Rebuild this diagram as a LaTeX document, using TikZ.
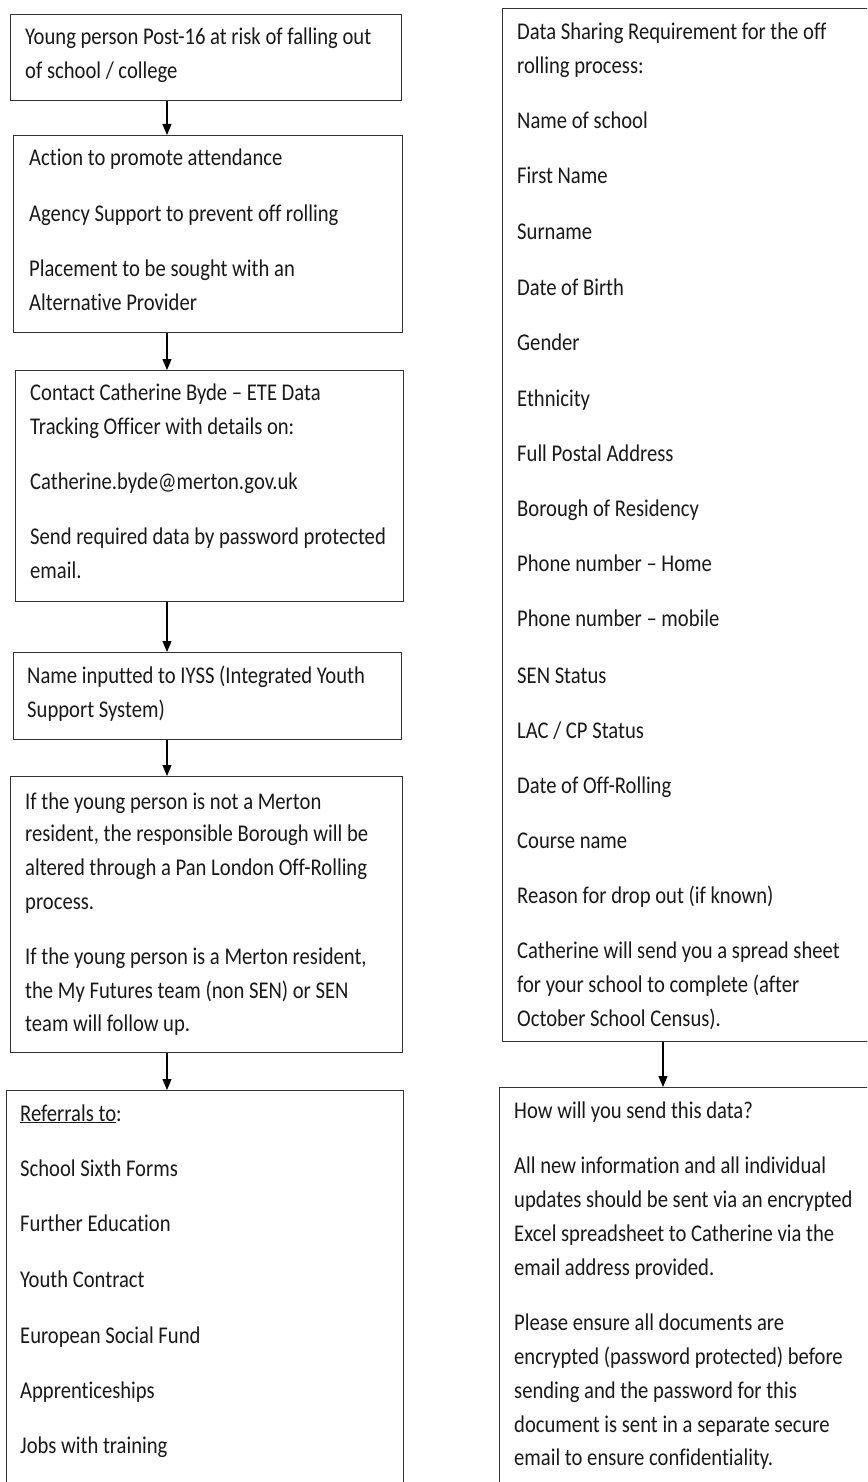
\documentclass[tikz,border=0pt]{standalone}
\usepackage{fontspec}
\setmainfont{Carlito}[FakeStretch=0.86,Ligatures={NoCommon,NoRequired,NoContextual}]
\usetikzlibrary{arrows.meta}
\newcommand\txtline[4]{\node[txt] (#1) at (#2,#3) {#4};}
\begin{document}
\begin{tikzpicture}[x=1pt,y=-1pt,
  box/.style={draw=black!80,line width=1.1pt,anchor=north west,inner sep=0pt},
  txt/.style={anchor=base west,inner sep=0pt,font=\fontsize{24}{34}\selectfont,text=black!90},
  arr/.style={-{Triangle[length=11pt,width=9pt]},line width=1.1pt,black}]
\clip (0,0) rectangle (867,1482);
\fill[white] (0,0) rectangle (867,1482);
\coordinate (ax) at (167,0);
\coordinate (rx) at (663,0);
% left column boxes
\node[box,minimum width=391pt,minimum height=86pt] (b1) at (10,14) {};
\node[box,minimum width=389pt,minimum height=197pt] (b2) at (13,135) {};
\node[box,minimum width=388pt,minimum height=231pt] (b3) at (15,370) {};
\node[box,minimum width=388pt,minimum height=87pt] (b4) at (13,652) {};
\node[box,minimum width=392pt,minimum height=276pt] (b5) at (10,776) {};
\node[box,minimum width=397pt,minimum height=420pt] (b6) at (6,1090) {};
% right column boxes
\node[box,minimum width=400pt,minimum height=1033pt] (r1) at (502,8) {};
\node[box,minimum width=400pt,minimum height=420pt] (r2) at (499,1087) {};
% arrows
\draw[arr] (b1.south -| ax) -- (b2.north -| ax);
\draw[arr] (b2.south -| ax) -- (b3.north -| ax);
\draw[arr] (b3.south -| ax) -- (b4.north -| ax);
\draw[arr] (b4.south -| ax) -- (b5.north -| ax);
\draw[arr] (b5.south -| ax) -- (b6.north -| ax);
\draw[arr] (r1.south -| rx) -- (r2.north -| rx);
% box 1
\txtline{t1a}{25}{45}{Young person Post-16 at risk of falling out}
\txtline{t1b}{25}{79}{of school / college}
% box 2
\txtline{t2a}{29}{166}{Action to promote attendance}
\txtline{t2b}{29}{221}{Agency Support to prevent off rolling}
\txtline{t2c}{29}{276}{Placement to be sought with an}
\txtline{t2d}{29}{310}{Alternative Provider}
% box 3
\txtline{t3a}{30}{400}{Contact Catherine Byde – ETE Data}
\txtline{t3b}{30}{434}{Tracking Officer with details on:}
\txtline{t3c}{30}{489}{Catherine.byde@merton.gov.uk}
\txtline{t3d}{30}{544}{Send required data by password protected}
\txtline{t3e}{30}{578}{email.}
% box 4
\txtline{t4a}{27}{683}{Name inputted to IYSS (Integrated Youth}
\txtline{t4b}{27}{717}{Support System)}
% box 5
\txtline{t5a}{25}{809}{If the young person is not a Merton}
\txtline{t5b}{25}{841}{resident, the responsible Borough will be}
\txtline{t5c}{25}{875}{altered through a Pan London Off-Rolling}
\txtline{t5d}{25}{909}{process.}
\txtline{t5e}{25}{964}{If the young person is a Merton resident,}
\txtline{t5f}{25}{998}{the My Futures team (non SEN) or SEN}
\txtline{t5g}{25}{1031}{team will follow up.}
% box 6
\txtline{t6a}{20}{1121}{\underline{Referrals to}:}
\txtline{t6b}{20}{1176}{School Sixth Forms}
\txtline{t6c}{20}{1231}{Further Education}
\txtline{t6d}{20}{1287}{Youth Contract}
\txtline{t6e}{20}{1343}{European Social Fund}
\txtline{t6f}{20}{1398}{Apprenticeships}
\txtline{t6g}{20}{1453}{Jobs with training}
% right box 1
\txtline{r1a}{517}{40}{Data Sharing Requirement for the off}
\txtline{r1b}{517}{74}{rolling process:}
\txtline{r1c}{517}{129}{Name of school}
\txtline{r1d}{517}{184}{First Name}
\txtline{r1e}{517}{239}{Surname}
\txtline{r1f}{517}{295}{Date of Birth}
\txtline{r1g}{517}{350}{Gender}
\txtline{r1h}{517}{406}{Ethnicity}
\txtline{r1i}{517}{461}{Full Postal Address}
\txtline{r1j}{517}{516}{Borough of Residency}
\txtline{r1k}{517}{571}{Phone number – Home}
\txtline{r1l}{517}{626}{Phone number – mobile}
\txtline{r1m}{517}{683}{SEN Status}
\txtline{r1n}{517}{738}{LAC / CP Status}
\txtline{r1o}{517}{793}{Date of Off-Rolling}
\txtline{r1p}{517}{848}{Course name}
\txtline{r1q}{517}{903}{Reason for drop out (if known)}
\txtline{r1r}{517}{958}{Catherine will send you a spread sheet}
\txtline{r1s}{517}{992}{for your school to complete (after}
\txtline{r1t}{517}{1026}{October School Census).}
% right box 2
\txtline{r2a}{514}{1118}{How will you send this data?}
\txtline{r2b}{514}{1173}{All new information and all individual}
\txtline{r2c}{514}{1207}{updates should be sent via an encrypted}
\txtline{r2d}{514}{1241}{Excel spreadsheet to Catherine via the}
\txtline{r2e}{514}{1275}{email address provided.}
\txtline{r2f}{514}{1330}{Please ensure all documents are}
\txtline{r2g}{514}{1364}{encrypted (password protected) before}
\txtline{r2h}{514}{1398}{sending and the password for this}
\txtline{r2i}{514}{1432}{document is sent in a separate secure}
\txtline{r2j}{514}{1465}{email to ensure confidentiality.}
\end{tikzpicture}
\end{document}
